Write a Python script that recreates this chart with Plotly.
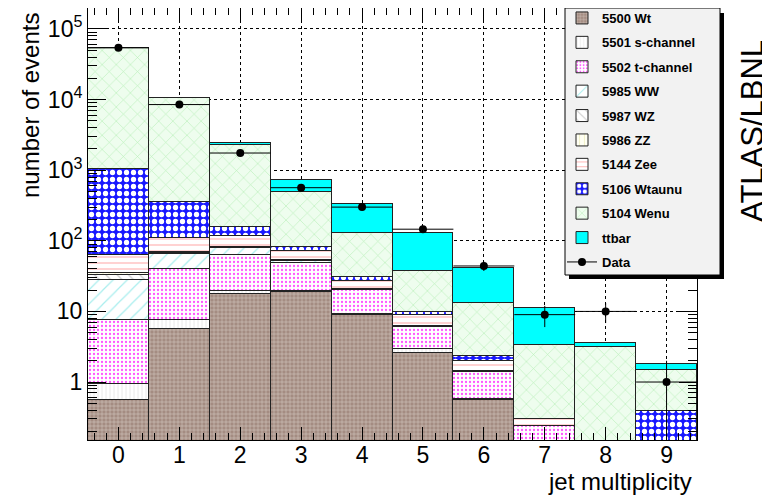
import plotly.graph_objects as go
import math

# ---------------- data ----------------
jets = [0, 1, 2, 3, 4, 5, 6, 7, 8, 9]
tick_labels = ["0", "1", "2", "3", "4", "5", "6", "7", "8", "9"]

wt     = [0.55, 5.6, 17.6, 18.8, 8.9, 2.6, 0.55, 0, 0, 0]
schan  = [0.38, 1.9, 1.8, 0.6, 0.4, 0.3, 0.02, 0, 0, 0]
tchan  = [6.6, 32.3, 43.6, 28.6, 10.7, 3.1, 0.81, 0.24, 0, 0]
ww     = [20.3, 25.0, 16.0, 3.0, 0.4, 0.1, 0.05, 0, 0, 0]
wz     = [5.5, 3.0, 1.5, 1.5, 0.2, 0.1, 0, 0, 0, 0]
zz     = [1.2, 1.0, 0.5, 0.5, 0.1, 0, 0, 0, 0, 0]
zee    = [28, 41, 36, 19, 6.3, 2.7, 0.55, 0.06, 0, 0]
wtaunu = [967, 245, 40, 9, 3.7, 0.9, 0.35, 0, 0, 0.39]
wenu   = [52670, 10145, 2103, 409, 98, 27, 10.9, 3.03, 3.13, 1.09]
ttbar  = [8, 40, 150, 230, 201, 92, 28, 7.9, 0.44, 0.32]
data   = [54000, 8500, 1750, 565, 300, 146, 44, 9, 10, 1]

names = ["5500 Wt", "5501 s-channel", "5502 t-channel", "5985 WW", "5987 WZ",
         "5986 ZZ", "5144 Zee", "5106 Wtaunu", "5104 Wenu", "ttbar"]
series = [wt, schan, tchan, ww, wz, zz, zee, wtaunu, wenu, ttbar]

# ---------------- styles ----------------
styles = [
    dict(bg="#a48c82", fg="#d6c8c2", shape="+", size=4, sol=0.25),
    dict(bg="#ffffff", fg="#e2e2e2", shape="|", size=4, sol=0.2),
    dict(bg="#ffffff", fg="#ff55ff", shape=".", size=4, sol=0.25),
    dict(bg="#ffffff", fg="#a8eeee", shape="/", size=10, sol=0.12),
    dict(bg="#ffffff", fg="#c8c8c8", shape="\\", size=8, sol=0.15),
    dict(bg="#fffff4", fg="#eeeebb", shape="|", size=6, sol=0.15),
    dict(bg="#ffffff", fg="#ffb4b4", shape="-", size=6, sol=0.2),
    dict(bg="#1818ff", fg="#ffffff", shape=".", size=7, sol=0.45),
    dict(bg="#eefdee", fg="#b8f0b8", shape="x", size=10, sol=0.12),
    dict(bg="#00ffff", fg="#00ffff", shape="", size=8, sol=0.2),
]

FONT = "Liberation Sans, Arial, sans-serif"

fig = go.Figure()
for name, vals, st in zip(names, series, styles):
    yv = [v if v > 0 else None for v in vals]
    fig.add_trace(go.Bar(
        x=jets, y=yv, name=name, width=1.0,
        legendgroup=name,
        marker=dict(color=st["bg"],
                    line=dict(color="#222222", width=1),
                    pattern=dict(shape=st["shape"], fgcolor=st["fg"], bgcolor=st["bg"],
                                 size=st["size"], solidity=st["sol"], fillmode="replace")),
    ))

err = [math.sqrt(v) for v in data]
fig.add_trace(go.Scatter(
    x=jets, y=data, mode="markers", showlegend=False,
    marker=dict(color="black", size=8),
    error_y=dict(type="data", array=err, arrayminus=err, color="black", thickness=1, width=0),
    error_x=dict(type="constant", value=0.5, color="black", thickness=1, width=0),
))
# legend entry for data (line + marker)
fig.add_trace(go.Scatter(
    x=[None], y=[None], mode="lines+markers", name="Data", legendgroup="Data",
    marker=dict(color="black", size=8), line=dict(color="black", width=1),
))

# ---------------- layout ----------------
# page pixel geometry of the reference (the page body adds an 8px offset)
OFF = 8
W, H = 770 - OFF, 495 - OFF
L, R, T, B = 88 - OFF, 697 - OFF, 8 - OFF, 440 - OFF

def px_x(p):
    return (p - OFF - L) / (R - L)

def px_y(p):
    return (B - (p - OFF)) / (B - T)

major_y = [1, 10, 100, 1000, 10000, 100000]
major_txt = ["1", "10", "10<sup>2</sup>", "10<sup>3</sup>", "10<sup>4</sup>", "10<sup>5</sup>"]
minor_y = [m * 10 ** e for e in range(-1, 6) for m in range(2, 10)]

shapes = [
    # legend shadow and box
    dict(type="rect", xref="paper", yref="paper", layer="above",
         x0=px_x(569), x1=px_x(724), y0=px_y(279), y1=px_y(13),
         fillcolor="black", line=dict(width=0)),
    dict(type="rect", xref="paper", yref="paper", layer="above",
         x0=px_x(565), x1=px_x(720), y0=px_y(275), y1=px_y(8),
         fillcolor="#f2f2f2", line=dict(color="black", width=1)),
]

annotations = [
    dict(text="ATLAS/LBNL", xref="paper", yref="paper", x=px_x(752), y=px_y(131),
         textangle=-90, showarrow=False, xanchor="center", yanchor="middle",
         font=dict(family=FONT, size=31, color="black")),
    dict(text="number of events", xref="paper", yref="paper", x=px_x(30), y=px_y(106),
         textangle=-90, showarrow=False, xanchor="center", yanchor="middle",
         font=dict(family=FONT, size=24, color="black")),
    dict(text="jet multiplicity", xref="paper", yref="paper", x=px_x(694), y=px_y(481),
         showarrow=False, xanchor="right", yanchor="middle",
         font=dict(family=FONT, size=24, color="black")),
]

fig.update_layout(
    width=W, height=H,
    margin=dict(l=L, r=W - R, t=T, b=H - B, pad=0, autoexpand=False),
    paper_bgcolor="white", plot_bgcolor="white",
    barmode="stack", bargap=0,
    font=dict(family=FONT, size=23, color="black"),
    shapes=shapes, annotations=annotations,
    showlegend=True,
    legend=dict(x=px_x(562), y=px_y(3), xanchor="left", yanchor="top",
                bgcolor="rgba(0,0,0,0)", borderwidth=0, traceorder="grouped",
                tracegroupgap=4.5, itemwidth=30, maxheight=420,
                font=dict(family=FONT, size=13, color="black", weight="bold")),
    xaxis=dict(range=[-0.5, 9.5], tickmode="array", tickvals=jets, ticktext=tick_labels,
               ticks="inside", ticklen=13, tickcolor="black", tickwidth=1,
               showline=True, linecolor="black", linewidth=1, mirror="allticks",
               showgrid=True, gridcolor="black", griddash="dot", gridwidth=1,
               zeroline=False, tickfont=dict(size=23), automargin=False,
               ticklabelstandoff=-6,
               minor=dict(dtick=0.2, tick0=0, ticks="inside", ticklen=7,
                          tickcolor="black", showgrid=False)),
    yaxis=dict(type="log", range=[math.log10(0.151), 5.297],
               tickmode="array", tickvals=major_y, ticktext=major_txt,
               ticks="inside", ticklen=18, tickcolor="black", tickwidth=1,
               showline=True, linecolor="black", linewidth=1, mirror="allticks",
               showgrid=True, gridcolor="black", griddash="dot", gridwidth=1,
               zeroline=False, tickfont=dict(size=23), automargin=False,
               minor=dict(tickmode="array", tickvals=minor_y, ticks="inside", ticklen=9,
                          tickcolor="black", showgrid=False)),
)

fig.write_html("out.html")
